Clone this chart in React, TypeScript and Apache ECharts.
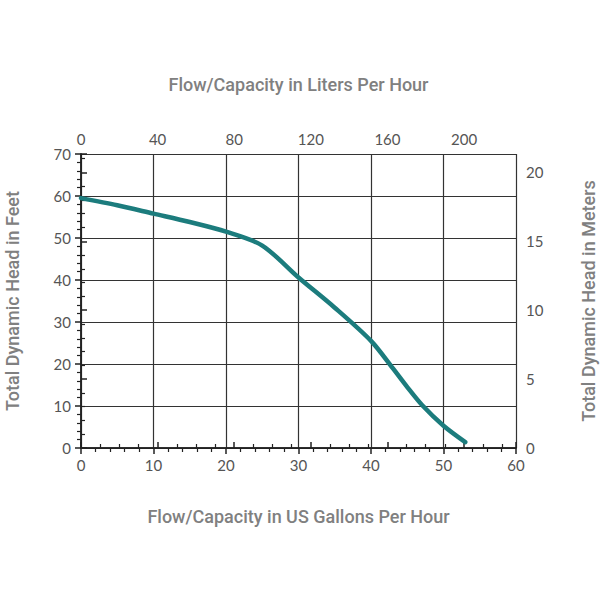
import React, { useEffect, useRef } from "react";
import * as echarts from "echarts";

const flowGallons = [0, 5, 10, 15, 20, 25, 30, 35, 40, 43, 45, 47, 50, 53];
const headFeet = [59.5, 57.8, 55.8, 53.8, 51.5, 48.2, 40.6, 33.4, 25.5, 19, 14.5, 10.3, 5.3, 1.4];

const GAL_TO_L = 3.78541;
const FT_TO_M = 0.3048;
const galMax = 60;
const ftMax = 70;

const titleFont = "Roboto, 'Noto Sans', sans-serif";
const labelFont = "Lato, 'Open Sans', sans-serif";
const labelColor = "#555";
const titleColor = "#808080";
const axisColor = "#222";

export default function App() {
  const ref = useRef<HTMLDivElement>(null);
  useEffect(() => {
    const chart = echarts.init(ref.current!, undefined, { renderer: "svg" });
    const axisLabel = { color: labelColor, fontFamily: labelFont, fontSize: 15 };
    const nameStyle = { color: titleColor, fontFamily: titleFont, fontSize: 18, fontWeight: 500 };
    const tickCommon = {
      axisLine: { show: true, lineStyle: { color: axisColor, width: 1.5 } },
      axisTick: { show: true, inside: false, length: 6, lineStyle: { color: axisColor, width: 1.5 } },
      minorTick: { show: true, splitNumber: 5, length: 4, lineStyle: { color: axisColor, width: 1.2 } },
    };
    chart.setOption({
      animation: false,
      backgroundColor: "#fff",
      grid: {
        left: 81,
        right: 84,
        top: 154,
        bottom: 152,
        containLabel: false,
        outerBoundsMode: "none",
      },
      xAxis: [
        {
          type: "value",
          position: "bottom",
          min: 0,
          max: galMax,
          interval: 10,
          ...tickCommon,
          splitLine: { show: true, lineStyle: { color: "#333", width: 1.2 } },
          axisLabel: { ...axisLabel, margin: 9 },
          name: "Flow/Capacity in US Gallons Per Hour",
          nameLocation: "middle",
          nameGap: 59,
          nameTextStyle: nameStyle,
        },
        {
          type: "value",
          position: "top",
          min: 0,
          max: galMax * GAL_TO_L,
          interval: 40,
          ...tickCommon,
          minorTick: { ...tickCommon.minorTick, splitNumber: 4 },
          splitLine: { show: false },
          axisLabel: {
            ...axisLabel,
            margin: 8,
            showMaxLabel: false,
            formatter: (v: number) => (Math.abs(v % 40) < 1e-6 ? String(v) : ""),
          },
          name: "Flow/Capacity in Liters Per Hour",
          nameLocation: "middle",
          nameGap: 61,
          nameTextStyle: nameStyle,
        },
      ],
      yAxis: [
        {
          type: "value",
          position: "left",
          min: 0,
          max: ftMax,
          interval: 10,
          ...tickCommon,
          splitLine: { show: true, lineStyle: { color: "#333", width: 1.2 } },
          axisLabel: { ...axisLabel, margin: 10 },
          name: "Total Dynamic Head in Feet",
          nameLocation: "middle",
          nameGap: 60,
          nameTextStyle: nameStyle,
        },
        {
          type: "value",
          position: "right",
          min: 0,
          max: ftMax * FT_TO_M,
          interval: 5,
          ...tickCommon,
          splitLine: { show: false },
          axisLabel: {
            ...axisLabel,
            margin: 10,
            showMaxLabel: false,
            formatter: (v: number) => (Math.abs(v % 5) < 1e-6 ? String(v) : ""),
          },
          name: "Total Dynamic Head in Meters",
          nameLocation: "middle",
          nameGap: 63,
          nameRotate: 90,
          nameTextStyle: nameStyle,
        },
      ],
      series: [
        {
          type: "line",
          xAxisIndex: 0,
          yAxisIndex: 0,
          data: flowGallons.map((g, i) => [g, headFeet[i]]),
          showSymbol: false,
          smooth: 0.3,
          lineStyle: { color: "#1c7c7d", width: 4.5, cap: "round" },
        },
      ],
    });
    return () => chart.dispose();
  }, []);
  return <div ref={ref} style={{ width: 600, height: 600, position: "absolute", left: 0, top: 0 }} />;
}
